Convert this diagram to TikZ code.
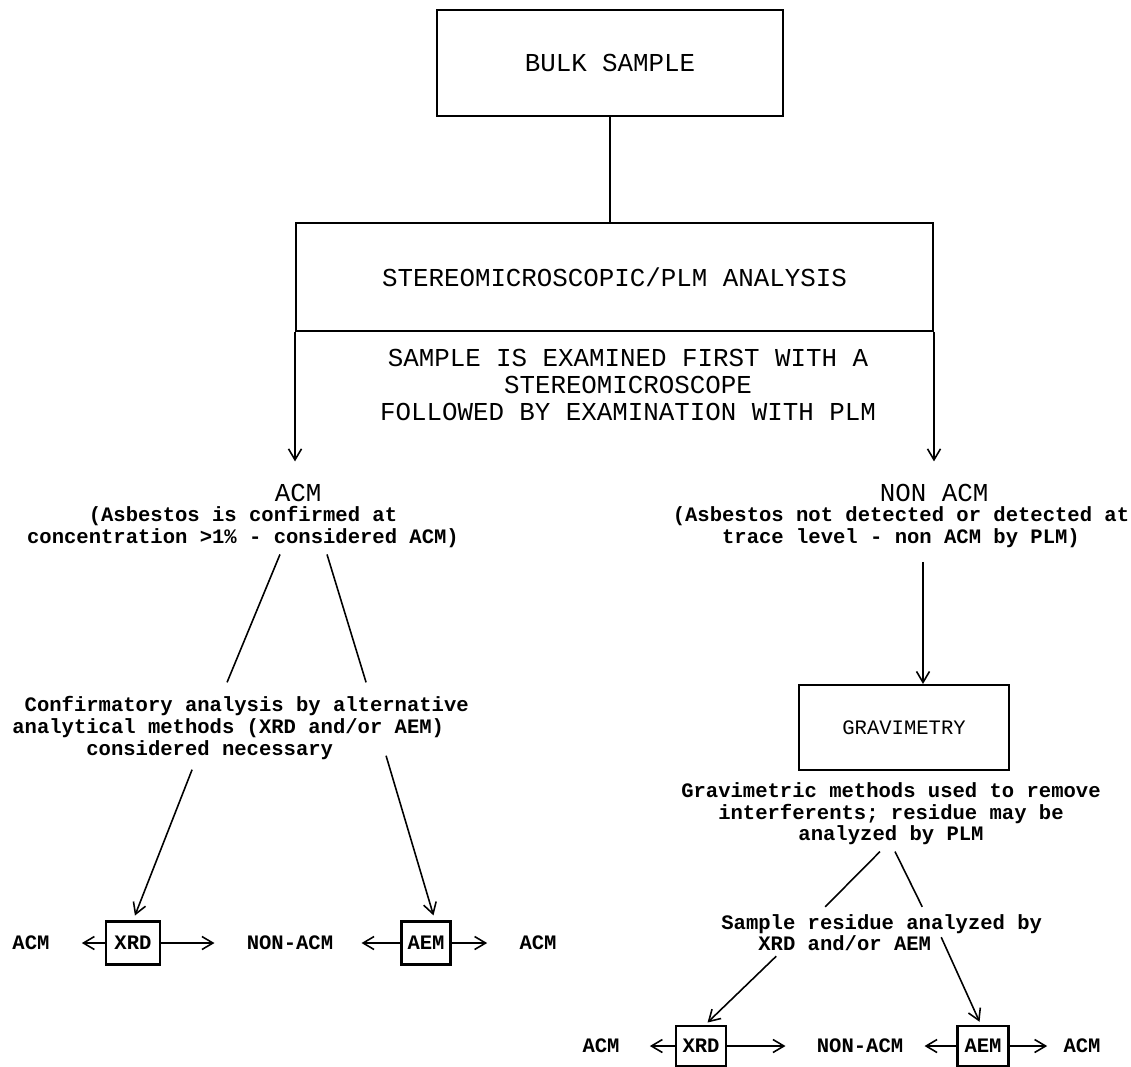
\documentclass[tikz,border=0pt]{standalone}
\usepackage{fontspec}
\newfontfamily\typew{Liberation Mono}
\usetikzlibrary{calc}
\usetikzlibrary{arrows.meta}

\begin{document}
\begin{tikzpicture}[x=0.02cm,y=-0.02cm,
  bigtext/.style={font=\typew\fontsize{14.7}{15.4}\selectfont,inner sep=0pt,align=center},
  smalltext/.style={font=\typew\bfseries\fontsize{11.7}{12.3}\selectfont,inner sep=0pt},
  plaintext/.style={font=\typew\fontsize{11.7}{12.3}\selectfont,inner sep=0pt},
  box/.style={draw,rectangle,line width=1.2pt,inner sep=0pt},
  wedge/.style={line width=0.9pt},
  arr/.style={-{Straight Barb[length=2.2mm,width=2.6mm]},line width=0.9pt},
  side/.style={arr,shorten >=0.64cm}]
\useasboundingbox (0,0) rectangle (1131,1066);

% Top boxes
\node[box,bigtext,minimum width=6.92cm,minimum height=2.12cm] (bulk) at (610,63) {BULK SAMPLE};
\node[box,bigtext,minimum width=12.74cm,minimum height=2.16cm] (stereo) at (614.5,277) {STEREOMICROSCOPIC/PLM ANALYSIS};
\node[bigtext] (examine) at (628,385) {SAMPLE IS EXAMINED FIRST WITH A\\STEREOMICROSCOPE\\FOLLOWED BY EXAMINATION WITH PLM};
\draw[wedge] (bulk) -- (bulk |- stereo.north);

% Branch headings
\node[bigtext] (acm) at (298,493) {ACM};
\node[smalltext,align=center] (acmnote) at (243,527) {(Asbestos is confirmed at\\concentration >1\% - considered ACM)};
\node[bigtext] (nonacm) at (934,493) {NON ACM};
\node[smalltext,align=center] (nonacmnote) at (901,527) {(Asbestos not detected or detected at\\trace level - non ACM by PLM)};
\draw[arr,shorten >=0.45cm] (stereo.south west) -- (stereo.south west |- acm.north);
\draw[arr,shorten >=0.45cm] (stereo.south east) -- (stereo.south east |- nonacm.north);

% ACM branch
\node[smalltext,align=left,anchor=west] (confirm) at (12,728) {\hspace*{0.6em}Confirmatory analysis by alternative\\analytical methods (XRD and/or AEM)\\\hspace*{3.6em}considered necessary};
\draw[wedge] ($(acmnote.south)+(37,6.5)$) -- ($(confirm.north)+(-13.5,-14)$);
\draw[wedge] ($(acmnote.south)+(84,6.5)$) -- ($(confirm.north)+(125.5,-14)$);

\node[smalltext] (acmLa) at (31,943) {ACM};
\node[box,smalltext,minimum width=1.08cm,minimum height=0.86cm] (xrdL) at (133,943) {XRD};
\node[smalltext] (nonL) at (290,943) {NON-ACM};
\node[box,smalltext,minimum width=0.98cm,minimum height=0.86cm] (aemL) at (426,943) {AEM};
\node[smalltext] (acmLb) at (538,943) {ACM};
\draw[arr,shorten >=3pt] ($(confirm.south)+(-48.5,10)$) -- (xrdL.north);
\draw[arr,shorten >=3pt] ($(confirm.south)+(145.5,-4)$) -- ($(aemL.north)+(9,0)$);
\draw[side] (xrdL) -- (acmLa);
\draw[side] (xrdL) -- (nonL);
\draw[side,shorten >=0.56cm] (aemL) -- (nonL);
\draw[side] (aemL) -- (acmLb);

% NON ACM branch
\node[box,plaintext,minimum width=4.2cm,minimum height=1.7cm] (grav) at (904,727.5) {GRAVIMETRY};
\draw[arr] ($(nonacmnote.south)+(22,14)$) -- ($(grav.north)+(19,0)$);
\node[smalltext,align=center] (gravnote) at (891,814) {Gravimetric methods used to remove\\interferents; residue may be\\analyzed by PLM};
\node[smalltext,align=left,anchor=west] (residue) at (721,932.5) {Sample residue analyzed by\\\hspace*{1.8em}XRD and/or AEM};
\draw[wedge] ($(gravnote.south)+(-11,6)$) -- ($(residue.north)+(-56.5,-7)$);
\draw[wedge] ($(gravnote.south)+(4,6)$) -- ($(residue.north)+(40.5,-7)$);

\node[smalltext] (acmRa) at (601,1046) {ACM};
\node[box,smalltext,minimum width=1.0cm,minimum height=0.8cm] (xrdR) at (701,1046) {XRD};
\node[smalltext] (nonR) at (860,1046) {NON-ACM};
\node[box,smalltext,minimum width=1.02cm,minimum height=0.8cm] (aemR) at (983,1046) {AEM};
\node[smalltext] (acmRb) at (1082,1046) {ACM};
\draw[arr,shorten >=2pt] ($(residue.south)+(-105.5,5)$) -- ($(xrdR.north)+(4,0)$);
\draw[arr,shorten >=2pt] ($(residue.south)+(59.5,-14)$) -- ($(aemR.north)+(-2,0)$);
\draw[side,shorten >=0.6cm] (xrdR) -- (acmRa);
\draw[side,shorten >=0.62cm] (xrdR) -- (nonR);
\draw[side,shorten >=0.42cm] (aemR) -- (nonR);
\draw[side,shorten >=0.32cm] (aemR) -- (acmRb);
\end{tikzpicture}
\end{document}
